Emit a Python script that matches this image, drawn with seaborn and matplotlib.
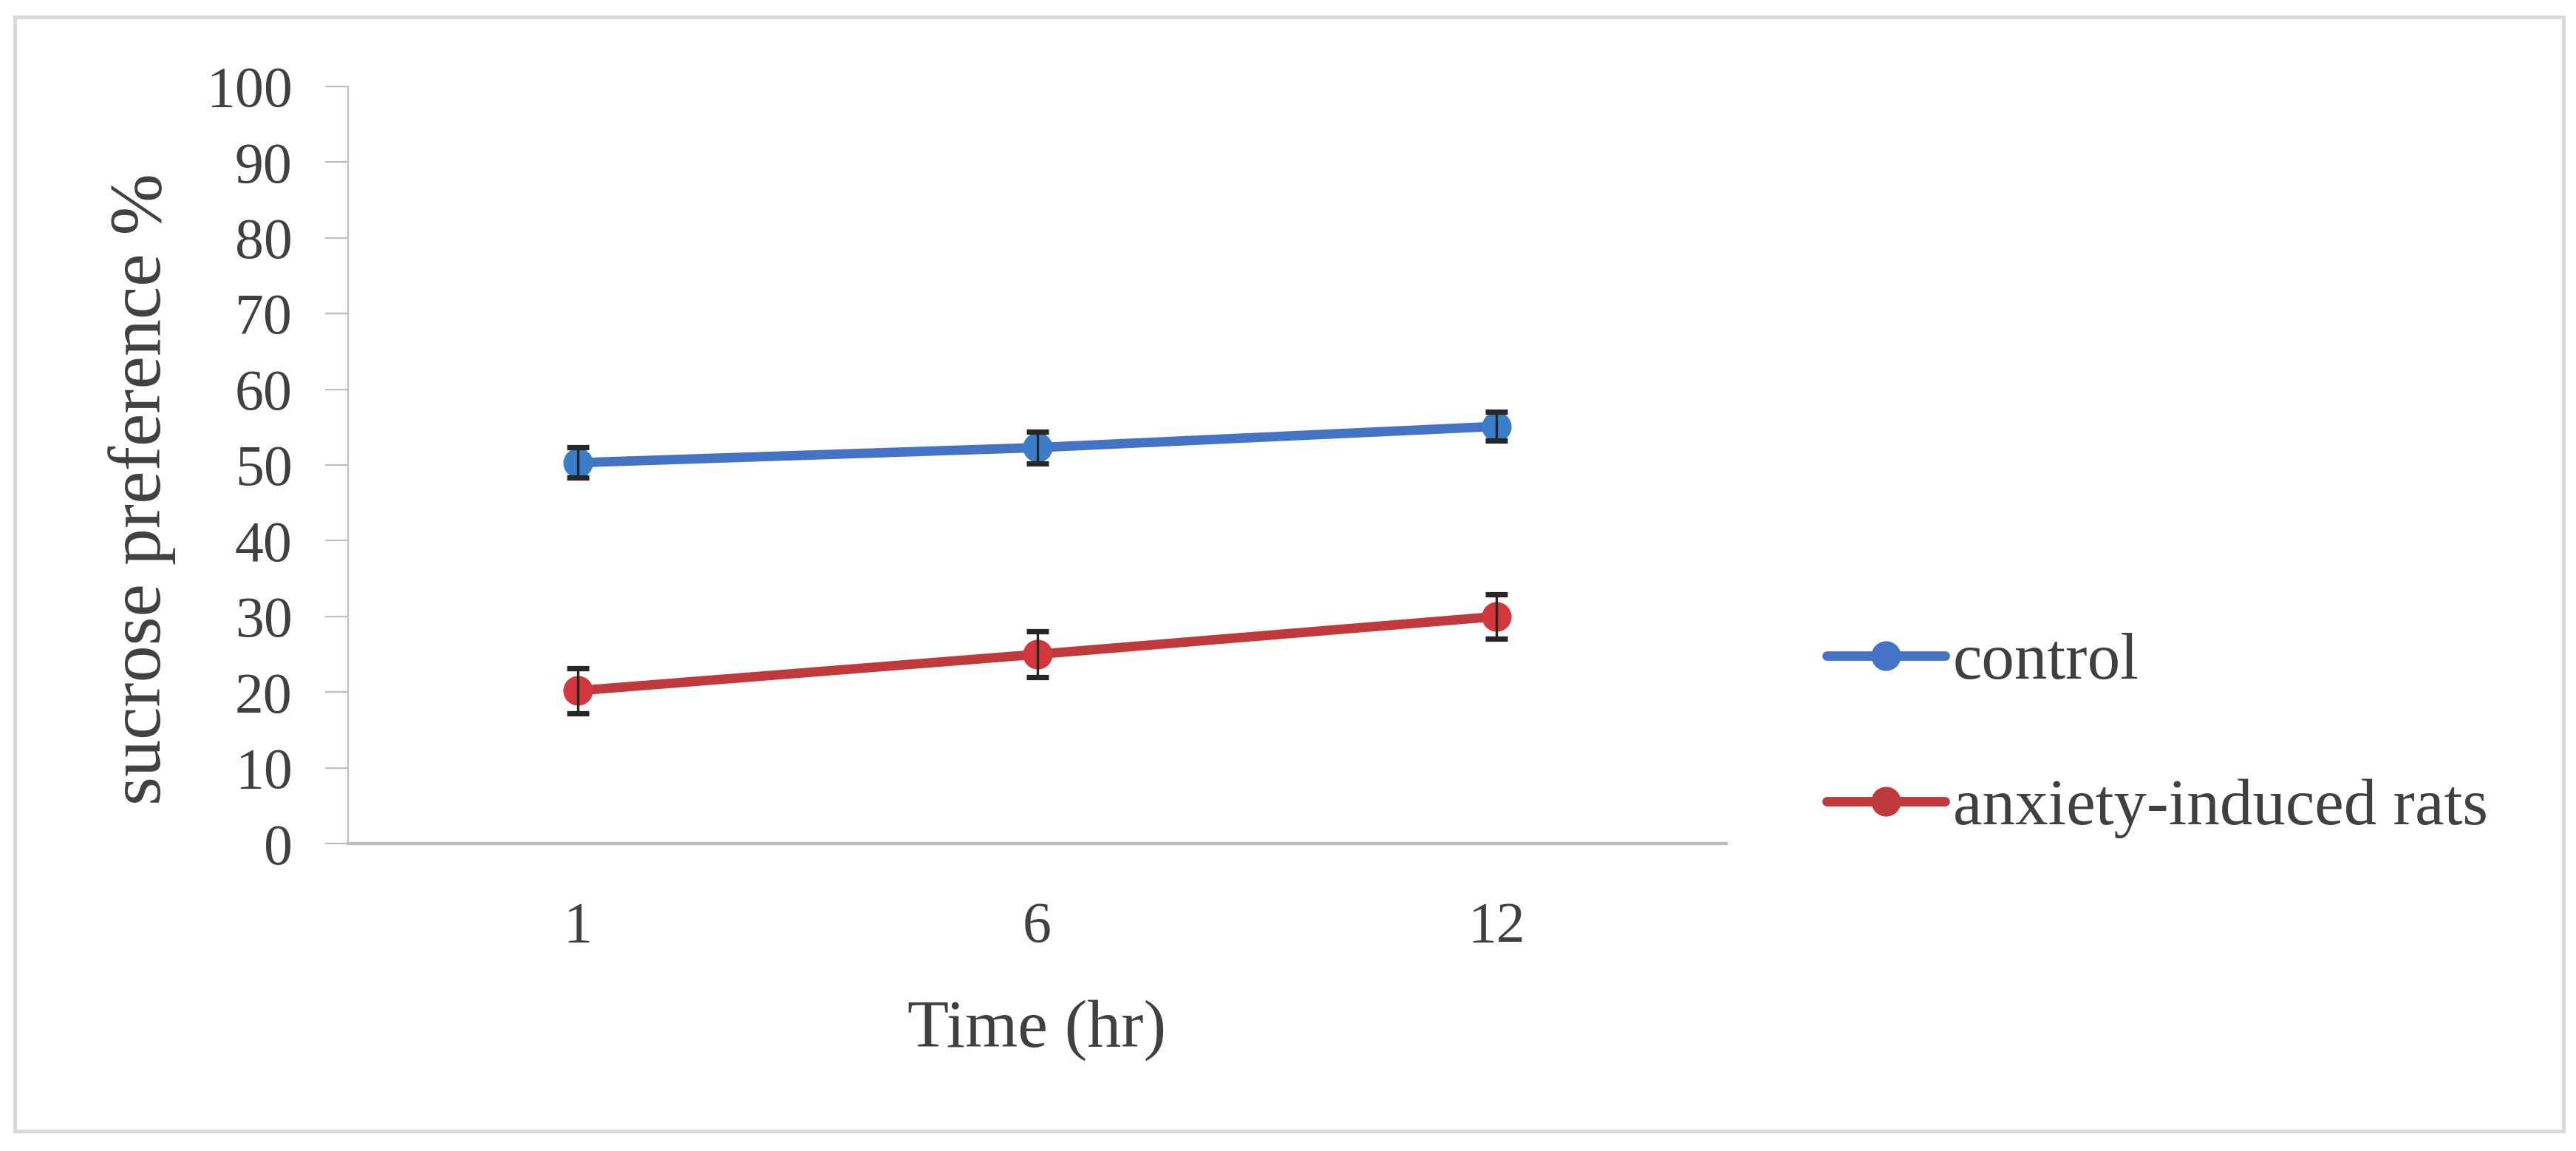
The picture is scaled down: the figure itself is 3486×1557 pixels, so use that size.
import numpy as np
import pandas as pd
import matplotlib
matplotlib.use("Agg")
import matplotlib.pyplot as plt
import matplotlib.patches as patches
import seaborn as sns

# values
times = ["1", "6", "12"]
groups = ["control", "anxiety-induced rats"]
control_mean = [50.3, 52.3, 55.1]
control_err = [2.0, 2.1, 1.9]
anxiety_mean = [20.2, 25.0, 30.0]
anxiety_err = [3.0, 3.0, 2.9]

line_colors = ["#4472c4", "#c0393b"]
marker_colors = ["#3a7ec9", "#d3363c"]
text_color = "#404040"
axis_gray = "#bfbfbf"

df = pd.DataFrame({
    "time": times * 2,
    "value": control_mean + anxiety_mean,
    "err": control_err + anxiety_err,
    "group": [groups[0]] * len(times) + [groups[1]] * len(times),
})

sns.set_theme(style="white")
plt.rcParams["font.family"] = ["Liberation Serif", "DejaVu Serif"]
plt.rcParams["text.color"] = text_color
plt.rcParams["axes.labelcolor"] = text_color
plt.rcParams["xtick.color"] = text_color
plt.rcParams["ytick.color"] = text_color

fig = plt.figure(figsize=(17.435, 7.785), dpi=200)
ax = fig.add_axes([0.135, 0.267, 0.535, 0.658])

sns.pointplot(data=df, x="time", y="value", hue="group", order=times,
              hue_order=groups, palette=line_colors, errorbar=None,
              markers="o", ax=ax, linewidth=4.6, markersize=11, legend=True)

# marker fill a bit lighter than the line, like the original
for line, mc in zip(ax.lines[:2], marker_colors):
    line.set_markerfacecolor(mc)
    line.set_markeredgecolor(mc)

xpos = np.arange(len(times))
for g in groups:
    sub = df[df["group"] == g]
    ax.errorbar(xpos, sub["value"], yerr=sub["err"], fmt="none",
                ecolor="#262626", elinewidth=1.2, capsize=5.5, capthick=2.6,
                zorder=5)

ax.set_xlim(-0.5, len(times) - 0.5)
ax.set_ylim(0, 100)
ax.set_yticks(np.arange(0, 101, 10))
ax.set_xticks(xpos)
ax.set_xticklabels(times)
ax.set_xticks(np.arange(-0.5, len(times), 1.0), minor=True)

ax.tick_params(axis="x", which="major", length=0, pad=28, labelsize=28)
ax.tick_params(axis="x", which="minor", length=10, width=0.8,
               color=axis_gray, direction="out")
ax.tick_params(axis="y", length=11, width=0.8, color=axis_gray,
               pad=16, labelsize=28, direction="out", left=True)

for side in ["top", "right"]:
    ax.spines[side].set_visible(False)
ax.spines["bottom"].set_color(axis_gray)
ax.spines["bottom"].set_linewidth(1.6)
ax.spines["left"].set_color(axis_gray)
ax.spines["left"].set_linewidth(0.8)

ax.set_xlabel("Time (hr)", fontsize=33, labelpad=22)
ax.set_ylabel("sucrose preference %", fontsize=36)
ax.yaxis.set_label_coords(-0.125, 0.468)

handles, labels = ax.get_legend_handles_labels()
ax.legend(handles, labels, loc="center left",
          bbox_to_anchor=(0.709, 0.361), bbox_transform=fig.transFigure,
          frameon=False, fontsize=32, handlelength=1.8, handletextpad=0.12,
          labelspacing=1.3, borderpad=0, borderaxespad=0)

# light frame around the whole chart
fig.patches.append(patches.Rectangle((0.0057, 0.0173), 0.989, 0.968,
                                     transform=fig.transFigure, fill=False,
                                     edgecolor="#d9d9d9", linewidth=1.8))

fig.savefig("out.png", dpi=200)
